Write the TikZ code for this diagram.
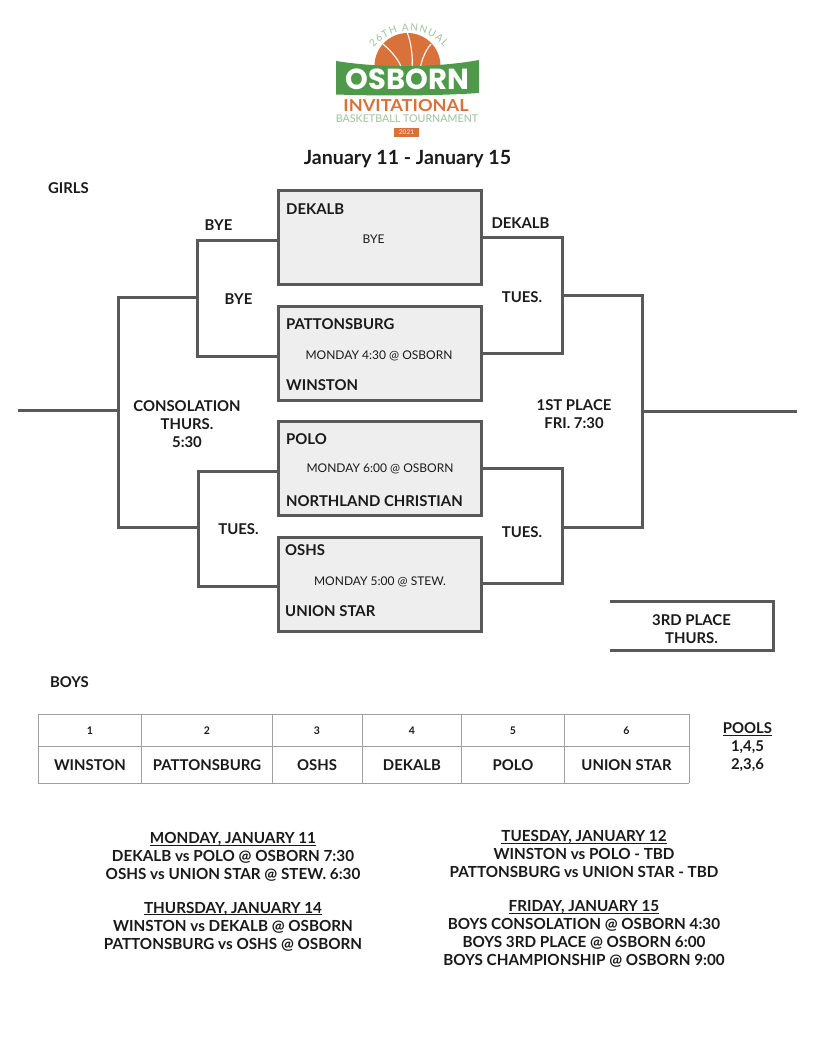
\documentclass[tikz,border=0pt]{standalone}
\usepackage{fontspec}
\usetikzlibrary{decorations.text}
\setmainfont{Lato}
\newfontfamily\logofont{Poppins}
\newcommand{\ulhead}[1]{\underline{\raisebox{0pt}[\height][0pt]{#1}}}
\pgfdeclarelayer{bg}
\pgfsetlayers{bg,main}
\definecolor{ln}{HTML}{595959}
\definecolor{bx}{HTML}{EEEEEE}
\definecolor{grn}{HTML}{4F9A4A}
\definecolor{org}{HTML}{D9713A}
\definecolor{lgrn}{HTML}{9CC49A}
\definecolor{tbl}{HTML}{A0A0A0}
\definecolor{tx}{HTML}{1A1A1A}
\tikzset{
 game/.style={draw=ln,line width=3pt,fill=bx,minimum width=203.2pt,minimum height=93.6pt,inner sep=0pt,outer sep=0pt,anchor=north west},
 wire/.style={draw=ln,line width=3pt,line cap=rect},
 lab/.style={font=\fontsize{14.9}{18}\selectfont\bfseries,text=tx,inner sep=0pt,yshift=-0.5pt},
 multi/.style={lab,align=center},
 small/.style={font=\fontsize{12}{15}\selectfont,text=tx,inner sep=0pt,yshift=-1pt},
 cellnum/.style={font=\fontsize{10.5}{13}\selectfont\bfseries,text=tx,inner sep=0pt},
 sched/.style={inner sep=0pt,text=tx,align=center,font=\fontsize{15.25}{18}\selectfont\bfseries},
 tline/.style={draw=tbl,line width=0.9pt}
}
\begin{document}
\begin{tikzpicture}[x=1pt,y=-1pt]
\useasboundingbox (0,0) rectangle (816,1056);
\begin{pgfonlayer}{bg}
\fill[white] (0,0) rectangle (816,1056);
\end{pgfonlayer}
% logo
\begin{scope}
 \clip (370,25) rectangle (445,70);
 \fill[org] (407.5,66) circle (33);
 \draw[white,line width=1.1pt] (383,44) .. controls (392,52) and (399,60) .. (402,69);
 \draw[white,line width=1.1pt] (407,32) .. controls (411,42) and (413,55) .. (412,69);
 \draw[white,line width=1.1pt] (431,44) .. controls (426,50) and (422,58) .. (420,69);
\end{scope}
\fill[grn] (336,61) .. controls (380,68) and (435,68) .. (479,60) -- (479,93) .. controls (435,96) and (380,96) .. (336,94.5) -- cycle;
\node[font=\logofont\fontsize{29}{29}\selectfont\bfseries,text=white,inner sep=0] (logoa) at (407.5,79.5) {OSBORN};
\node[font=\fontsize{16.5}{16}\selectfont\bfseries,text=org,inner sep=0,xscale=1.1] (logob) at (406,106) {INVITATIONAL};
\node[font=\fontsize{10.7}{10}\selectfont,text=lgrn,inner sep=0] (logoc) at (407,118.5) {BASKETBALL TOURNAMENT};
\node[fill=org,text=white!85!org,font=\fontsize{6.5}{7}\selectfont,minimum width=25pt,minimum height=9.5pt,inner sep=0] (logod) at (406.5,132.5) {2021};
\path[postaction={decorate,decoration={text along path,text align={fit to path},text={|\fontsize{10}{10}\selectfont\color{lgrn}|26TH ANNUAL}}}]
  (373.8,47.4) .. controls (392.2,25.5) and (425.8,25.5) .. (444.2,47.4);
% title
\node[font=\fontsize{19.6}{22}\selectfont\bfseries,text=tx,inner sep=0] (title) at (407.5,159) {January 11 - January 15};
\node[lab] (girls) at (68.5,188) {GIRLS};
\node[lab] (boys) at (69.5,681.5) {BOYS};
% games
\node[game] (g1) at (278.7,190.9) {};
\node[game] (g2) at (278.7,306.4) {};
\node[game] (g3) at (278.7,421.4) {};
\node[game] (g4) at (278.7,537.4) {};
\node[lab,anchor=west] (t1) at (286,209) {DEKALB};
\node[small] (m1) at (373.5,238.5) {BYE};
\node[lab,anchor=west] (t2) at (286,324) {PATTONSBURG};
\node[small] (m2) at (379,355) {MONDAY 4:30 @ OSBORN};
\node[lab,anchor=west] (t3) at (286,385) {WINSTON};
\node[lab,anchor=west] (t4) at (286,439) {POLO};
\node[small] (m3) at (380,468) {MONDAY 6:00 @ OSBORN};
\node[lab,anchor=west] (t5) at (286,500.5) {NORTHLAND CHRISTIAN};
\node[lab,anchor=west] (t6) at (285,550) {OSHS};
\node[small] (m4) at (380,581) {MONDAY 5:00 @ STEW.};
\node[lab,anchor=west] (t7) at (285,611) {UNION STAR};
% junction coordinates
\coordinate (a1) at (197.5,241); \coordinate (a2) at (197.5,356);
\coordinate (a3) at (198.7,471); \coordinate (a4) at (198.7,586.5);
\coordinate (b1) at (118.3,297); \coordinate (b2) at (118.3,527.5);
\coordinate (b3) at (118.3,410); \coordinate (inn) at (19.5,410);
\coordinate (c1) at (562.3,238); \coordinate (c2) at (562.3,353);
\coordinate (c3) at (562.3,468.5); \coordinate (c4) at (562.3,583.5);
\coordinate (d1) at (642.5,295.5); \coordinate (d2) at (642.5,527.5);
\coordinate (d3) at (642.5,411); \coordinate (outt) at (795.5,411);
\coordinate (e1) at (611.5,601.5); \coordinate (e2) at (773,601.5);
\coordinate (e3) at (773,650.5); \coordinate (e4) at (611.5,650.5);
\begin{pgfonlayer}{bg}
\draw[wire] (g1.west |- a1) -- (a1) -- (a2) -- (g2.west |- a2);
\draw[wire] (g3.west |- a3) -- (a3) -- (a4) -- (g4.west |- a4);
\draw[wire] (b1 -| a1) -- (b1) -- (b2) -- (b2 -| a3);
\draw[wire] (inn) -- (b3);
\draw[wire] (g1.east |- c1) -- (c1) -- (c2) -- (g2.east |- c2);
\draw[wire] (g3.east |- c3) -- (c3) -- (c4) -- (g4.east |- c4);
\draw[wire] (d1 -| c1) -- (d1) -- (d2) -- (d2 -| c3);
\draw[wire] (d3) -- (outt);
\draw[wire] (e1) -- (e2) -- (e3) -- (e4);
\end{pgfonlayer}
% bracket labels
\node[lab] (l1) at (218.5,225) {BYE};
\node[lab] (l2) at (238.5,298.5) {BYE};
\node[lab] (l3) at (238.5,528.5) {TUES.};
\node[lab] (l4) at (520.5,223) {DEKALB};
\node[lab] (l5) at (522,296.5) {TUES.};
\node[lab] (l6) at (522,532) {TUES.};
\node[multi] (l7) at (187,424) {CONSOLATION\\THURS.\\5:30};
\node[multi] (l8) at (574,413.5) {1ST PLACE\\FRI. 7:30};
\node[multi] (l9) at (691.5,629) {3RD PLACE\\THURS.};
% table
\foreach \y in {714,746,783}{\draw[tline] (38,\y) -- (689,\y);}
\foreach \x in {38,141,272,362,461,564,689}{\draw[tline] (\x,714) -- (\x,783);}
\foreach \x/\n/\s in {90/1/WINSTON,207/2/PATTONSBURG,317/3/OSHS,412/4/DEKALB,513/5/POLO,626.5/6/UNION STAR}{
 \node[cellnum] at (\x,730.5) {\n};
 \node[lab] at (\x,765) {\s};}
\node[multi] (pools) at (747.5,747) {\ulhead{POOLS}\\1,4,5\\2,3,6};
% schedule
\node[sched] (s1) at (233,857) {\ulhead{MONDAY, JANUARY 11}\\DEKALB vs POLO @ OSBORN 7:30\\OSHS vs UNION STAR @ STEW. 6:30};
\node[sched] (s2) at (233,926.5) {\ulhead{THURSDAY, JANUARY 14}\\WINSTON vs DEKALB @ OSBORN\\PATTONSBURG vs OSHS @ OSBORN};
\node[sched] (s3) at (584,854) {\ulhead{TUESDAY, JANUARY 12}\\WINSTON vs POLO - TBD\\PATTONSBURG vs UNION STAR - TBD};
\node[sched] (s4) at (584,934) {\ulhead{FRIDAY, JANUARY 15}\\BOYS CONSOLATION @ OSBORN 4:30\\BOYS 3RD PLACE @ OSBORN 6:00\\BOYS CHAMPIONSHIP @ OSBORN 9:00};
\end{tikzpicture}
\end{document}
